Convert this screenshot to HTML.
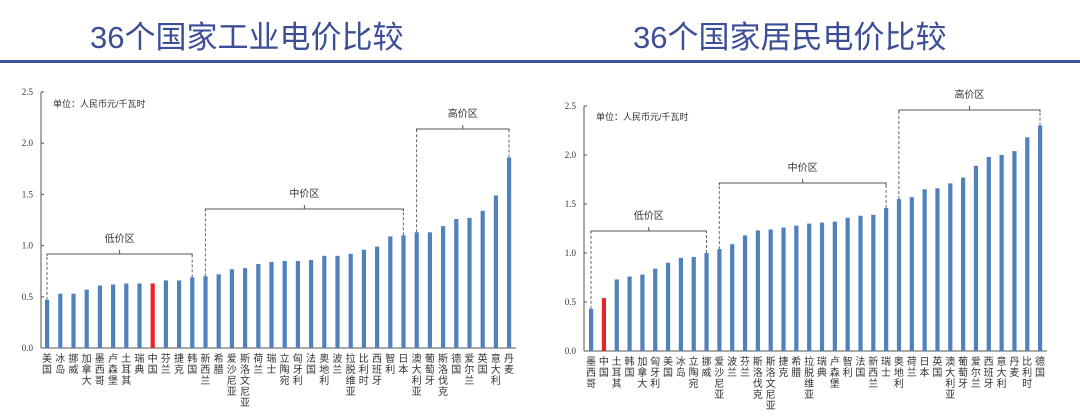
<!DOCTYPE html>
<html><head><meta charset="utf-8">
<style>
body{margin:0;background:#fff;width:1080px;height:419px;overflow:hidden;font-family:"Liberation Sans","Noto Sans CJK SC",sans-serif;}
.title{position:absolute;top:12px;font-size:31px;color:#3b4e96;font-family:"Liberation Sans","Noto Sans CJK SC",sans-serif;white-space:nowrap}
.rule{position:absolute;left:0;top:60px;width:1080px;height:3px;background:#3f529c}
svg{position:absolute;left:0;top:0}
</style></head><body>
<div class="title" style="left:90px">36个国家工业电价比较</div>
<div class="title" style="left:633px">36个国家居民电价比较</div>
<div class="rule"></div>
<svg id="s" width="1080" height="419"></svg>
<script>
const indCats=["美国","冰岛","挪威","加拿大","墨西哥","卢森堡","土耳其","瑞典","中国","芬兰","捷克","韩国","新西兰","希腊","爱沙尼亚","斯洛文尼亚","荷兰","瑞士","立陶宛","匈牙利","法国","奥地利","波兰","拉脱维亚","比利时","西班牙","智利","日本","澳大利亚","葡萄牙","斯洛伐克","德国","爱尔兰","英国","意大利","丹麦"];
const indVals=[0.47,0.53,0.53,0.57,0.61,0.62,0.63,0.63,0.63,0.66,0.66,0.69,0.70,0.72,0.77,0.78,0.82,0.84,0.85,0.85,0.86,0.90,0.90,0.92,0.96,0.99,1.09,1.10,1.13,1.13,1.19,1.26,1.27,1.34,1.49,1.86];
const resCats=["墨西哥","中国","土耳其","韩国","加拿大","匈牙利","美国","冰岛","立陶宛","挪威","爱沙尼亚","波兰","芬兰","斯洛伐克","斯洛文尼亚","捷克","希腊","拉脱维亚","瑞典","卢森堡","智利","法国","新西兰","瑞士","奥地利","荷兰","日本","英国","澳大利亚","葡萄牙","爱尔兰","西班牙","意大利","丹麦","比利时","德国"];
const resVals=[0.43,0.54,0.73,0.76,0.78,0.84,0.90,0.95,0.96,1.00,1.04,1.09,1.18,1.23,1.24,1.26,1.28,1.30,1.31,1.32,1.36,1.38,1.39,1.46,1.55,1.57,1.65,1.66,1.71,1.77,1.89,1.98,2.00,2.04,2.18,2.30];
const yTicks=[0,0.5,1.0,1.5,2.0,2.5];
const indGroups=[["低价区",0,11],["中价区",12,27],["高价区",28,35]];
const resGroups=[["低价区",0,9],["中价区",10,23],["高价区",24,35]];
const NS="http://www.w3.org/2000/svg";
const svg=document.getElementById('s');
function mk(t,a,p){const e=document.createElementNS(NS,t);for(const k in a)e.setAttribute(k,a[k]);(p||svg).appendChild(e);return e;}
function chart(cfg){
  const g=mk('g',{});
  
  
  const y=v=>cfg.y0-(cfg.y0-cfg.y25)*v/2.5;
  const x=i=>cfg.x0+(cfg.x1-cfg.x0)*i/(cfg.cats.length-1);
  const ax=mk('line',{x1:cfg.ax,x2:cfg.ax,y1:y(2.5),y2:y(0),stroke:'#555','stroke-width':1},g);
  
  const xa=mk('line',{x1:cfg.ax,x2:cfg.x1+7,y1:y(0),y2:y(0),stroke:'#555','stroke-width':1},g);
  
  yTicks.forEach(t=>{
    mk('line',{x1:cfg.ax,x2:cfg.ax+3,y1:y(t),y2:y(t),stroke:'#555'},g);
    const tx=mk('text',{x:cfg.ax-8,y:y(t)+3,'text-anchor':'end','font-size':9,'font-family':'Liberation Serif,serif',fill:'#333'},g);
    tx.textContent=t.toFixed(1);
    
  });
  const u=mk('text',{x:cfg.ax+12,y:cfg.unitY,'font-size':9,fill:'#333'},g);
  u.textContent='单位：人民币元/千瓦时';
  
  cfg.cats.forEach((c,i)=>{
    const v=cfg.vals[i];
    const b=mk('rect',{x:x(i)-2,y:y(v),width:4.2,height:y(0)-y(v),fill:c==='中国'?'#e8232a':'#4f81bd'},g);
    
    const t=mk('text',{x:x(i),y:y(0)+14,'text-anchor':'middle','font-size':10,fill:'#333'},g);
    
    [...c].forEach((ch,k)=>{const s=mk('tspan',{x:x(i),dy:k?11:0},t);s.textContent=ch;});
  });
  cfg.groups.forEach(([lab,a,b],gi)=>{
    const by=cfg.gy[gi];
    mk('path',{d:`M${x(a)} ${y(cfg.vals[a])} V${by} M${x(b)} ${y(cfg.vals[b])} V${by}`,stroke:'#666','stroke-dasharray':'3,2',fill:'none'},g);
    const br=mk('path',{d:`M${x(a)} ${by+2} V${by} H${x(b)} V${by+2} M${(x(a)+x(b))/2} ${by} V${by-4}`,stroke:'#555',fill:'none'},g);
    
    const t=mk('text',{x:(x(a)+x(b))/2,y:by-12,'text-anchor':'middle','font-size':10,fill:'#333'},g);
    t.textContent=lab;
    
  });
}
chart({name:'industrial-chart',cats:indCats,vals:indVals,groups:indGroups,ax:41,x0:47,x1:509,y0:348,y25:92,unitY:107,gy:[254,209,129]});
chart({name:'residential-chart',cats:resCats,vals:resVals,groups:resGroups,ax:584,x0:591,x1:1040,y0:351,y25:106,unitY:120,gy:[231,183,110]});
</script>
</body></html>
